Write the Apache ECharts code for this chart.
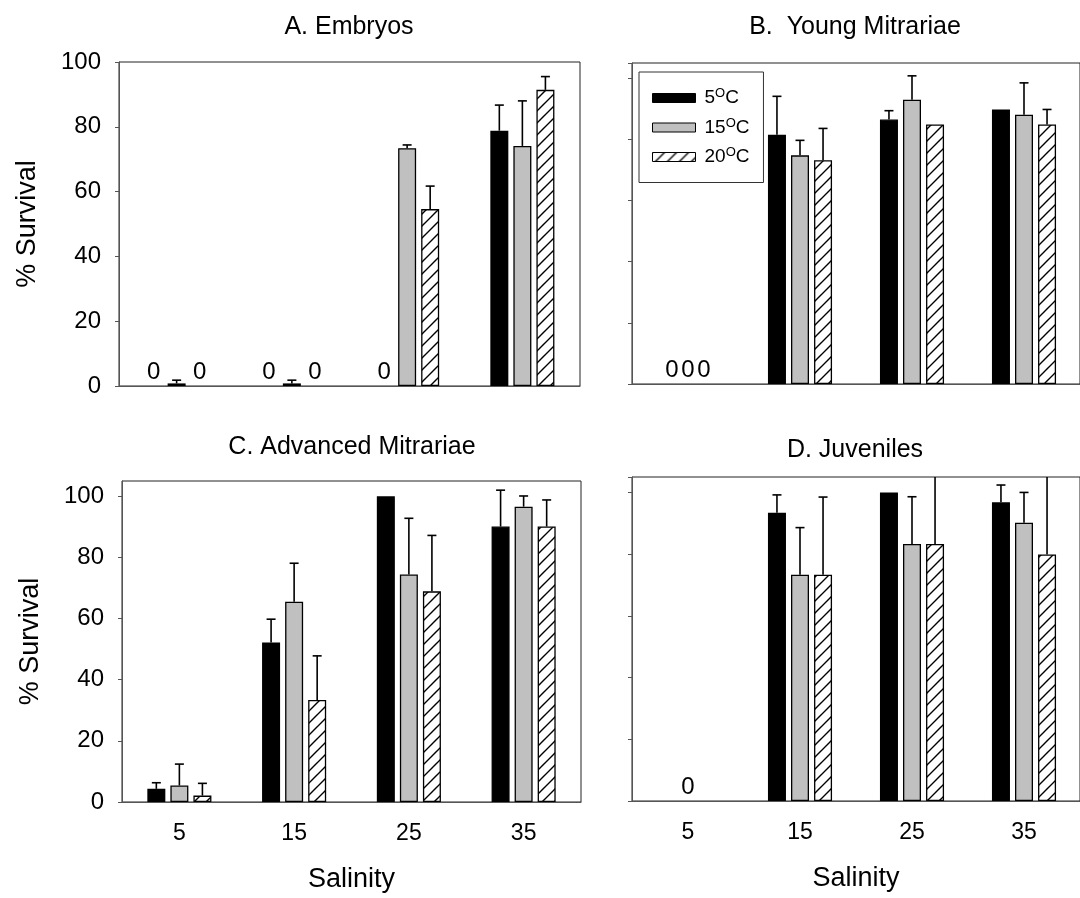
<!DOCTYPE html>
<html><head><meta charset="utf-8">
<script src="https://cdn.jsdelivr.net/npm/echarts@6/dist/echarts.min.js"></script>
<style>html,body{margin:0;padding:0;background:#fff}#c{width:1080px;height:898px}</style>
</head><body><div id="c"></div>
<script>
// ---------------- data ----------------
const categories = ['5', '15', '25', '35'];      // salinity
const tempNames = ['5', '15', '20'];             // temperature (°C)
const panelTitles = ['A. Embryos', 'B.  Young Mitrariae', 'C. Advanced Mitrariae', 'D. Juveniles'];

// A. Embryos
const a5C  = [0, 0, 0, 78.8];
const a15C = [0.8, 0.8, 73.4, 74.1];
const a20C = [0, 0, 54.6, 91.4];
const a5CUp  = [null, null, null, 86.7];
const a15CUp = [1.8, 1.8, 74.4, 88.0];
const a20CUp = [null, null, 61.7, 95.5];
const aZeroLabels = [[0, 0], [2, 0], [0, 1], [2, 1], [0, 2]];

// B. Young Mitrariae
const b5C  = [0, 81.5, 86.5, 89.8];
const b15C = [0, 74.8, 93.0, 88.1];
const b20C = [0, 73.2, 84.9, 84.9];
const b5CUp  = [null, 94.1, 89.4, null];
const b15CUp = [null, 79.7, 100.8, 98.5];
const b20CUp = [null, 83.6, null, 89.8];
const bZeroLabels = [[0, 0], [1, 0], [2, 0]];

// C. Advanced Mitrariae
const c5C  = [4.3, 52.2, 100, 90.1];
const c15C = [5.4, 65.5, 74.4, 96.6];
const c20C = [2.1, 33.4, 68.9, 90.1];
const c5CUp  = [6.3, 59.8, null, 102.0];
const c15CUp = [12.4, 78.1, 92.8, 100.1];
const c20CUp = [6.1, 47.8, 87.2, 98.8];
const cZeroLabels = [];

// D. Juveniles
const d5C  = [0, 93.4, 100, 96.8];
const d15C = [0, 73.3, 83.3, 90.2];
const d20C = [0, 73.3, 83.3, 79.9];
const d5CUp  = [null, 99.2, null, 102.4];
const d15CUp = [null, 88.6, 98.6, 100.0];
const d20CUp = [null, 98.5, 108, 108];
const dZeroLabels = [[1, 0]];

const yTickInterval = 20;

// ---------------- layout / style ----------------
const FONT = 'Liberation Sans, Arial, sans-serif';
const panels = [
  {vals: [a5C, a15C, a20C], ups: [a5CUp, a15CUp, a20CUp], zeros: aZeroLabels,
   grid: {left: 119, top: 62, width: 461, height: 324}, ymax: 100, yLabels: true, xLabels: false, yName: '% Survival'},
  {vals: [b5C, b15C, b20C], ups: [b5CUp, b15CUp, b20CUp], zeros: bZeroLabels,
   grid: {left: 632, top: 63, width: 460, height: 321}, ymax: 105, yLabels: false, xLabels: false, yName: '', zeroOffsets: [7, 0, -7]},
  {vals: [c5C, c15C, c20C], ups: [c5CUp, c15CUp, c20CUp], zeros: cZeroLabels,
   grid: {left: 122, top: 481, width: 459, height: 321}, ymax: 105, yLabels: true, xLabels: true, yName: '% Survival'},
  {vals: [d5C, d15C, d20C], ups: [d5CUp, d15CUp, d20CUp], zeros: dZeroLabels,
   grid: {left: 632, top: 477, width: 460, height: 324}, ymax: 105, yLabels: false, xLabels: true, yName: ''}
];
const titleX = [349, 855, 352, 855];
const titleY = [27, 27, 447, 450];

function makeHatch() {
  const s = 12, c = document.createElement('canvas');
  c.width = s; c.height = s;
  const g = c.getContext('2d');
  g.fillStyle = '#fff'; g.fillRect(0, 0, s, s);
  g.strokeStyle = '#000'; g.lineWidth = 1.4;
  g.beginPath();
  g.moveTo(-2, s + 2); g.lineTo(s + 2, -2);
  g.moveTo(-2, 2); g.lineTo(2, -2);
  g.moveTo(s - 2, s + 2); g.lineTo(s + 2, s - 2);
  g.stroke();
  return c;
}
const hatch = {image: makeHatch(), repeat: 'repeat'};
const fills = ['#000000', '#c0c0c0', hatch];
const BAR_W = 18, GAP_RATIO = 0.28;
const AXIS_COLOR = '#555';

const grids = [], xAxes = [], yAxes = [], series = [], graphics = [];

panels.forEach((p, gi) => {
  grids.push(Object.assign({show: true, borderColor: '#222', borderWidth: 1, backgroundColor: 'transparent'}, p.grid));
  xAxes.push({
    type: 'category', gridIndex: gi, data: categories,
    axisLine: {lineStyle: {color: AXIS_COLOR, width: 1}},
    axisTick: {alignWithLabel: true, length: 5, lineStyle: {color: AXIS_COLOR}},
    axisLabel: {show: p.xLabels, fontSize: 23, color: '#000', fontFamily: FONT, margin: 20},
    name: p.xLabels ? 'Salinity' : '', nameLocation: 'middle', nameGap: 64,
    nameTextStyle: {fontSize: 27, color: '#000', fontFamily: FONT}
  });
  yAxes.push({
    type: 'value', gridIndex: gi, min: 0, max: p.ymax, interval: yTickInterval,
    splitLine: {show: false},
    axisLine: {show: true, lineStyle: {color: AXIS_COLOR, width: 1}},
    axisTick: {show: true, length: 4, lineStyle: {color: AXIS_COLOR}},
    axisLabel: {show: p.yLabels, fontSize: 24, color: '#000', fontFamily: FONT, margin: 18,
                showMaxLabel: p.ymax === 100},
    name: p.yName, nameLocation: 'middle', nameRotate: 90, nameGap: 78,
    nameTextStyle: {fontSize: 27, color: '#000', fontFamily: FONT}
  });
  p.vals.forEach((arr, si) => {
    series.push({
      type: 'bar', name: tempNames[si], xAxisIndex: gi, yAxisIndex: gi,
      barWidth: BAR_W, barGap: (GAP_RATIO * 100) + '%',
      itemStyle: {color: fills[si], borderColor: '#000', borderWidth: 1.3},
      emphasis: {disabled: true},
      data: arr.map((v, ci) => {
        const isZeroLabel = p.zeros.some(z => z[0] === si && z[1] === ci);
        const item = {value: v};
        if (v === 0) item.itemStyle = {borderWidth: 0, color: 'rgba(0,0,0,0)'};
        if (isZeroLabel) {
          const off = p.zeroOffsets ? p.zeroOffsets[si] : 0;
          item.label = {show: true, position: 'top', distance: 2, offset: [off, 0],
            formatter: '0', fontSize: 24, color: '#000', fontFamily: FONT};
        }
        return item;
      })
    });
  });
  // error bars (upper only)
  const errData = [];
  p.ups.forEach((arr, si) => arr.forEach((up, ci) => {
    if (up != null) errData.push([ci, si, p.vals[si][ci], up]);
  }));
  const ymax = p.ymax;
  series.push({
    type: 'custom', xAxisIndex: gi, yAxisIndex: gi, z: 5, silent: true,
    encode: {x: 0, y: 2},
    data: errData,
    renderItem: function (params, api) {
      const ci = api.value(0), si = api.value(1), v = api.value(2), up = api.value(3);
      const off = (si - 1) * BAR_W * (1 + GAP_RATIO);
      const base = api.coord([ci, v]);
      const top = api.coord([ci, Math.min(up, ymax)]);
      const x = base[0] + off;
      const children = [{type: 'line', shape: {x1: x, y1: base[1], x2: x, y2: top[1]},
        style: {stroke: '#000', lineWidth: 1.6}}];
      if (up <= ymax) children.push({type: 'line', shape: {x1: x - 4.5, y1: top[1], x2: x + 4.5, y2: top[1]},
        style: {stroke: '#000', lineWidth: 1.6}});
      return {type: 'group', children: children};
    }
  });
  graphics.push({
    type: 'text', x: titleX[gi], y: titleY[gi],
    style: {text: panelTitles[gi], fill: '#000', font: '25px ' + FONT, textAlign: 'center', textVerticalAlign: 'middle'}
  });
});

const chart = echarts.init(document.getElementById('c'), null, {renderer: 'canvas'});
chart.setOption({
  animation: false,
  backgroundColor: '#fff',
  grid: grids, xAxis: xAxes, yAxis: yAxes, series: series,
  graphic: graphics,
  legend: {
    data: tempNames, left: 639, top: 72, orient: 'vertical',
    icon: 'rect', itemWidth: 43, itemHeight: 9, itemGap: 9,
    padding: [15, 14, 16, 13],
    borderColor: '#333', borderWidth: 1,
    formatter: n => '{a|' + n + '}{s|O}{a|C}',
    textStyle: {
      color: '#000', fontFamily: FONT, padding: [0, 0, 0, 4],
      rich: {a: {fontSize: 19, lineHeight: 22, fontFamily: FONT, color: '#000'},
             s: {fontSize: 13, lineHeight: 13, verticalAlign: 'top', fontFamily: FONT, color: '#000'}}
    },
    itemStyle: {borderColor: '#000', borderWidth: 1}
  }
});
</script></body></html>
